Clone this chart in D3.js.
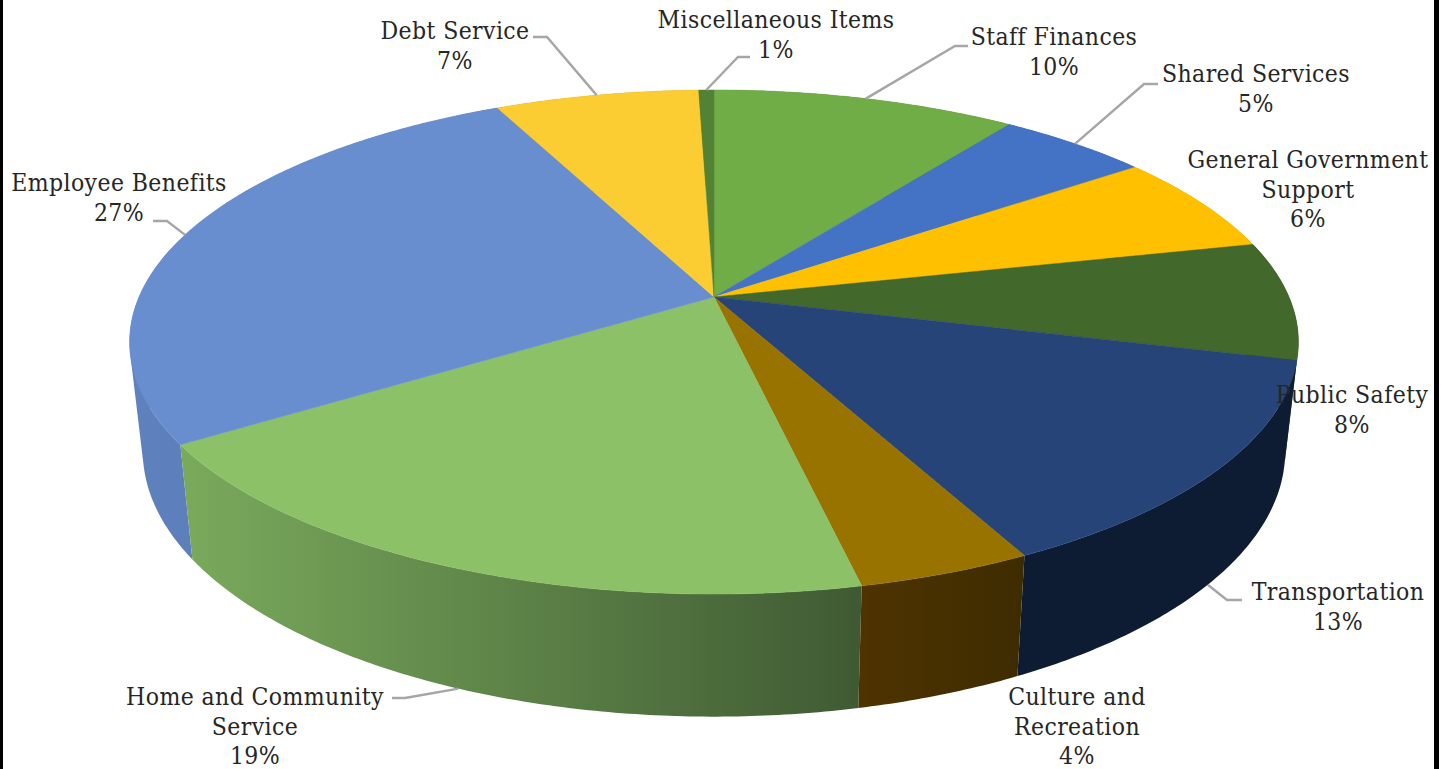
<!DOCTYPE html>
<html>
<head>
<meta charset="utf-8">
<title>Budget by function</title>
<script src="https://cdn.jsdelivr.net/npm/d3@7"></script>
<style>
  html, body { margin: 0; background: #fff; overflow: hidden; }
  text { font-family: "DejaVu Serif Condensed", "DejaVu Serif", serif; font-size: 24.5px; letter-spacing: 0.4px; fill: #262626; text-anchor: middle; }
</style>
</head>
<body>
<svg id="chart" width="1447" height="769"></svg>
<script>
// slice sizes (printed labels are rounded)
const categories = ["Staff Finances", "Shared Services", "General Government Support", "Public Safety", "Transportation",
    "Culture and Recreation", "Home and Community Service", "Employee Benefits", "Debt Service", "Miscellaneous Items"];
const sliceValues = [10, 5, 6.4, 7.6, 13.5, 4.1, 19.2, 27.0, 6.7, 0.5];
const percentLabels = ["10%", "5%", "6%", "8%", "13%", "4%", "19%", "27%", "7%", "1%"];

// office palette, top face then side face (left and right end of the wall)
const topColors = ["#70ad47", "#4472c4", "#ffc000", "#43682b", "#264478", "#997300", "#8cc168", "#698ed0", "#fbcd33", "#548235"];
const sideLeft = ["#4a7430", "#2d4d84", "#aa8000", "#2c451c", "#0e1c33", "#4f3300", "#7aaa5c", "#5f82bf", "#aa8922", "#385723"];
const sideRight = ["#4a7430", "#2d4d84", "#aa8000", "#2c451c", "#0e1c33", "#3d2c00", "#3f5a33", "#5072ab", "#aa8922", "#385723"];

// label placement: text lines, centre x, first baseline, leader elbow
const labelLines = [["Staff Finances"], ["Shared Services"], ["General Government", "Support"], ["Public Safety"], ["Transportation"],
    ["Culture and", "Recreation"], ["Home and Community", "Service"], ["Employee Benefits"], ["Debt Service"], ["Miscellaneous Items"]];
const labelX = [1054, 1256, 1308, 1352, 1338, 1077, 255, 119, 455, 776];
const labelY = [45, 82, 168, 403, 600, 705, 705, 191, 39, 28];
const leaderPts = [
    [[955, 46], [968, 46]],
    [[1144, 84], [1158, 84]],
    null,
    null,
    [[1227, 600], [1242, 600]],
    null,
    [[405, 698], [392, 698]],
    [[167, 221], [153, 221]],
    [[547, 37], [533, 37]],
    [[738, 57], [750, 57]]
];

const svg = d3.select("#chart");
const lineHeight = 29.7;

// the disc is a circle seen in perspective: u,v on the unit circle go to the page
const persp = -0.1786;
const topFace = { cx: 714, cy: 297, a: 575, b: 244 };
const bottomFace = { cx: 714, cy: 404, a: 562, b: 256.8 };

function project(face, angle) {
    const u = Math.sin(angle), v = -Math.cos(angle);
    const d = 1 + persp * v;
    return [face.cx + face.a * u / d, face.cy + face.b * v / d];
}

function rim(face, a0, a1) {
    const n = Math.max(2, Math.ceil((a1 - a0) / 0.01));
    return d3.range(n + 1).map(i => project(face, a0 + (a1 - a0) * i / n));
}

const slices = d3.pie().sort(null).value(d => d)(sliceValues);
const line = d3.line();

const defs = svg.append("defs");
const walls = svg.append("g");
const tops = svg.append("g");
const leaders = svg.append("g");
const labels = svg.append("g");

// walls first, back ones before front ones, the top faces hide what is behind
const wallOrder = d3.range(slices.length).sort((i, j) =>
    Math.cos((slices[j].startAngle + slices[j].endAngle) / 2) - Math.cos((slices[i].startAngle + slices[i].endAngle) / 2));

wallOrder.forEach(i => {
    const s = slices[i];
    const upper = rim(topFace, s.startAngle, s.endAngle);
    const lower = rim(bottomFace, s.startAngle, s.endAngle);
    const xs = upper.concat(lower).map(p => p[0]);
    const grad = defs.append("linearGradient")
        .attr("id", "wall" + i)
        .attr("gradientUnits", "userSpaceOnUse")
        .attr("x1", d3.min(xs)).attr("x2", d3.max(xs))
        .attr("y1", 0).attr("y2", 0);
    grad.append("stop").attr("offset", 0).attr("stop-color", sideLeft[i]);
    grad.append("stop").attr("offset", 1).attr("stop-color", sideRight[i]);
    // the two rims cross on screen, so one quad per step, all turned the same way
    // and kept in one path so nonzero fill leaves no holes or seams
    const quads = d3.range(upper.length - 1).map(k => {
        const q = [upper[k], upper[k + 1], lower[k + 1], lower[k]];
        if (d3.polygonArea(q) < 0) q.reverse();
        return line(q) + "Z";
    });
    walls.append("path")
        .attr("d", quads.join(""))
        .attr("fill", `url(#wall${i})`);
});

slices.forEach((s, i) => {
    const pts = [[topFace.cx, topFace.cy]].concat(rim(topFace, s.startAngle, s.endAngle));
    tops.append("path")
        .attr("d", line(pts) + "Z")
        .attr("fill", topColors[i])
        .attr("stroke", topColors[i])
        .attr("stroke-width", 0.5);
});

// leaders start at the middle of the slice, on the rim that can be seen
slices.forEach((s, i) => {
    if (!leaderPts[i]) return;
    const mid = (s.startAngle + s.endAngle) / 2;
    const front = Math.cos(mid) < -0.5;
    const anchor = project(front ? bottomFace : topFace, mid);
    leaders.append("path")
        .attr("d", line([anchor].concat(leaderPts[i])))
        .attr("fill", "none")
        .attr("stroke", "#a6a6a6")
        .attr("stroke-width", 2.4);
});

categories.forEach((c, i) => {
    const rows = labelLines[i].concat(percentLabels[i]);
    const t = labels.append("text").attr("data-category", c);
    rows.forEach((r, k) => {
        t.append("tspan")
            .attr("x", labelX[i])
            .attr("y", labelY[i] + k * lineHeight)
            .text(r);
    });
});

// black bars either side of the pasted picture
svg.append("rect").attr("x", 0).attr("y", 0).attr("width", 3).attr("height", 769).attr("fill", "#000");
svg.append("rect").attr("x", 1434).attr("y", 0).attr("width", 5).attr("height", 769).attr("fill", "#000");
</script>
</body>
</html>
